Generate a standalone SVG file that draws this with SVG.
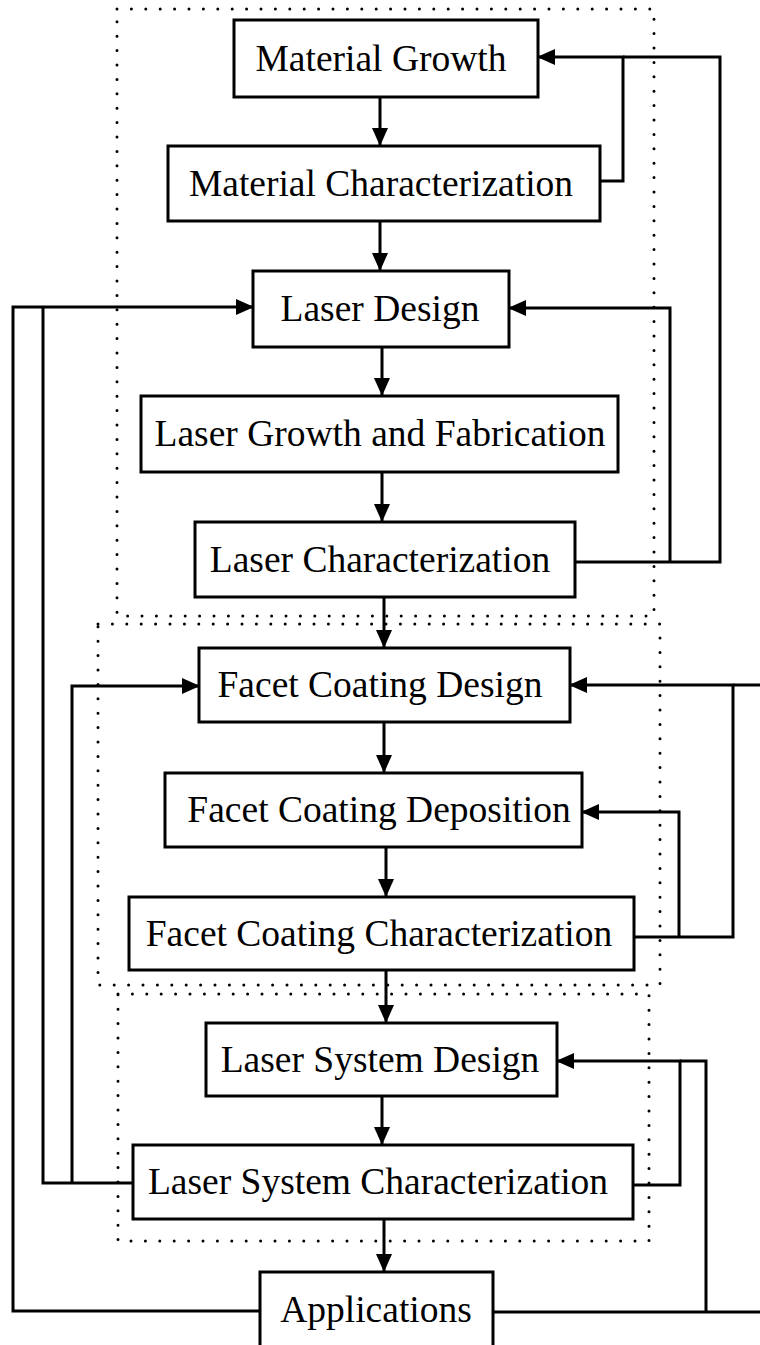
<svg xmlns="http://www.w3.org/2000/svg" width="760" height="1345" viewBox="0 0 760 1345">
<style>
.box{fill:#fff;stroke:#000;stroke-width:3}
.lbl{font-family:"Liberation Serif","Times New Roman",serif;font-size:37.5px;fill:#000;text-anchor:middle}
.con{fill:none;stroke:#000;stroke-width:3}
.arr{marker-end:url(#ah)}
.dot{fill:none;stroke:#000;stroke-width:3;stroke-linecap:round;stroke-dasharray:0 14.4}
</style>
<defs>
<marker id="ah" markerWidth="18" markerHeight="16" viewBox="0 0 18 16" refX="17" refY="8" orient="auto" markerUnits="userSpaceOnUse"><path d="M0,0 L18,8 L0,16 Z" fill="#000"/></marker>
</defs>
<rect width="760" height="1345" fill="#fff"/>
<g id="groups">
<rect class="dot" x="117" y="9" width="537" height="607"/>
<rect class="dot" x="98" y="624" width="562" height="361"/>
<rect class="dot" x="118" y="994" width="531" height="247"/>
</g>
<g id="connectors">
<path class="con arr" d="M380,97 V145"/>
<path class="con arr" d="M380,221 V270"/>
<path class="con arr" d="M382,347 V395"/>
<path class="con arr" d="M382,472 V521"/>
<path class="con arr" d="M384,597 V647"/>
<path class="con arr" d="M384,722 V772"/>
<path class="con arr" d="M386,847 V896"/>
<path class="con arr" d="M386,970 V1022"/>
<path class="con arr" d="M382,1096 V1144"/>
<path class="con arr" d="M384,1219 V1271"/>
<path class="con arr" d="M600,181 H623 V57 H538"/>
<path class="con" d="M575,562 H720 V57 H623"/>
<path class="con arr" d="M670,562 V308 H509"/>
<path class="con arr" d="M634,937 H733 V685 H570"/>
<path class="con" d="M733,685 H760"/>
<path class="con arr" d="M679,937 V812 H582"/>
<path class="con" d="M133,1183 H43 V307"/>
<path class="con arr" d="M72,1183 V686 H199"/>
<path class="con arr" d="M260,1311 H13 V307 H253"/>
<path class="con arr" d="M633,1185 H680 V1061 H557"/>
<path class="con" d="M493,1312 H760 M706,1312 V1061 H680"/>
</g>
<g id="n1"><rect class="box" x="234" y="20" width="304" height="77"/><text class="lbl" x="381" y="71">Material Growth</text></g>
<g id="n2"><rect class="box" x="168" y="146" width="432" height="75"/><text class="lbl" x="381" y="196">Material Characterization</text></g>
<g id="n3"><rect class="box" x="253" y="271" width="256" height="76"/><text class="lbl" x="380" y="321">Laser Design</text></g>
<g id="n4"><rect class="box" x="141" y="396" width="477" height="76"/><text class="lbl" x="380" y="446">Laser Growth and Fabrication</text></g>
<g id="n5"><rect class="box" x="195" y="522" width="380" height="75"/><text class="lbl" x="380" y="572">Laser Characterization</text></g>
<g id="n6"><rect class="box" x="199" y="648" width="371" height="74"/><text class="lbl" x="380" y="697">Facet Coating Design</text></g>
<g id="n7"><rect class="box" x="165" y="773" width="417" height="74"/><text class="lbl" x="379" y="822">Facet Coating Deposition</text></g>
<g id="n8"><rect class="box" x="129" y="897" width="505" height="73"/><text class="lbl" x="379" y="946">Facet Coating Characterization</text></g>
<g id="n9"><rect class="box" x="206" y="1023" width="351" height="73"/><text class="lbl" x="380" y="1072">Laser System Design</text></g>
<g id="n10"><rect class="box" x="133" y="1145" width="500" height="74"/><text class="lbl" x="378" y="1194">Laser System Characterization</text></g>
<g id="n11"><rect class="box" x="260" y="1272" width="233" height="90"/><text class="lbl" x="376" y="1322">Applications</text></g>
</svg>
